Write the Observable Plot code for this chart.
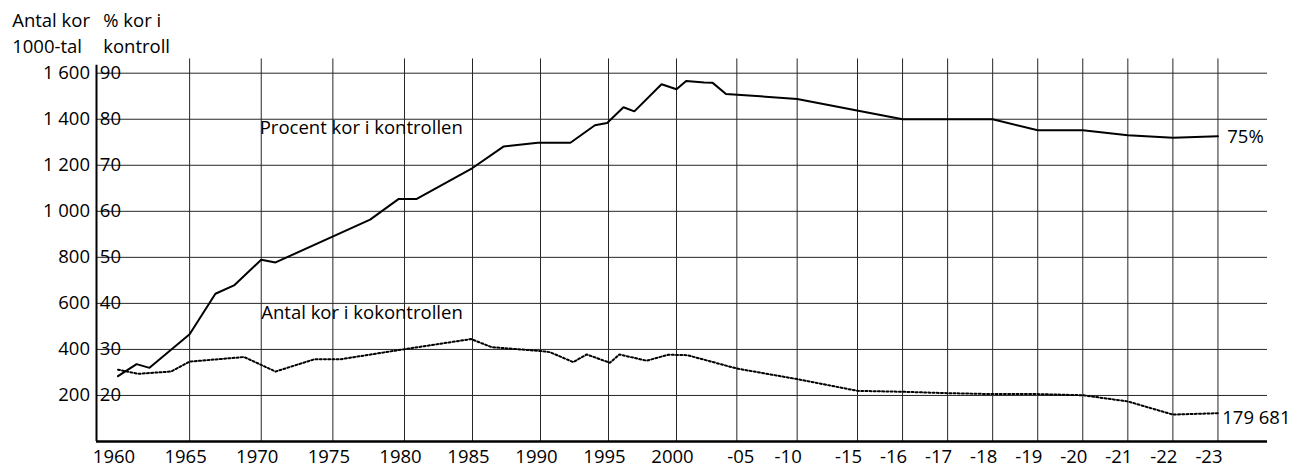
<!DOCTYPE html>
<html>
<head>
<meta charset="utf-8">
<script src="https://cdn.jsdelivr.net/npm/d3@7"></script>
<script src="https://cdn.jsdelivr.net/npm/@observablehq/plot@0.6"></script>
<style>
  html, body { margin: 0; padding: 0; background: #fff; }
  #chart svg { display: block; }
</style>
</head>
<body>
<div id="chart"></div>
<script>
// ---- Data ----
const tickYears = [1960, 1965, 1970, 1975, 1980, 1985, 1990, 1995, 2000, 2005, 2010, 2015, 2016, 2017, 2018, 2019, 2020, 2021, 2022, 2023];
const pctTicks = [20, 30, 40, 50, 60, 70, 80, 90];

// Procent kor i kontrollen (%)
const pctYears  = [1960, 1961.3, 1962.2, 1965, 1966.8, 1968.1, 1970, 1971, 1977.6, 1979.6, 1980.9, 1985, 1987.3, 1989.8, 1992.2, 1994, 1994.9, 1996.1, 1996.9, 1998.9, 2000, 2000.8, 2002.3, 2003, 2004.1, 2010, 2016, 2018, 2019, 2020, 2021, 2022, 2023];
const pctValues = [24.2, 26.8, 26.0, 33.3, 42.1, 43.9, 49.5, 48.9, 58.2, 62.7, 62.7, 69.4, 74.1, 74.9, 74.9, 78.7, 79.2, 82.6, 81.7, 87.6, 86.5, 88.3, 88.0, 87.9, 85.5, 84.4, 80.0, 80.0, 77.6, 77.6, 76.5, 76.0, 76.3];

// Antal kor i kokontrollen (1000-tal)
const cowYears  = [1960, 1961.4, 1963.7, 1965, 1968.8, 1971, 1973.7, 1975.5, 1980, 1984.9, 1986.4, 1990, 1990.7, 1992.4, 1993.4, 1995.1, 1995.8, 1997.8, 1999.4, 2000.9, 2005, 2010, 2015, 2016, 2017, 2018, 2019, 2020, 2021, 2022, 2023];
const cowValues = [312, 294, 304, 347, 367, 304, 357, 357, 401, 445, 410, 393, 388, 345, 378, 342, 378, 351, 377, 375, 317, 271, 220, 216, 210, 206, 206, 201, 174, 117, 123];

const titleCount = "Antal kor\n1000-tal";
const titlePct = "% kor i\nkontroll";
const pctLabel = "Procent kor i kontrollen";
const cowLabel = "Antal kor i kokontrollen";
const pctEndLabel = "75%";
const cowEndLabel = "179 681";

// ---- Build tables ----
const pctData = pctYears.map((year, i) => ({year, pct: pctValues[i]}));
const cowData = cowYears.map((year, i) => ({year, cows: cowValues[i]}));
// the count axis shares the percent scale: 200 <-> 20 %, 1600 <-> 90 %
const countToPct = c => 10 + c / 20;
const pctToCount = p => (p - 10) * 20;

const fmtCount = d3.formatLocale({thousands: "\u00a0", grouping: [3], decimal: ","}).format(",");
const fmtYear = y => y <= 2000 ? String(y) : "-" + String(y % 100).padStart(2, "0");

const FONT = "'Open Sans', 'DejaVu Sans', sans-serif";
const FS = 18.5;
const INK = "#000";
const GRID = "#262626";

// piecewise x scale (the reference's category spacing is not uniform)
const xDomain = [1958.5, 1980, 2000, 2015, 2024.1];
const xRange  = [96, 404, 676, 857, 1267];

const lastPct = pctData[pctData.length - 1];
const lastCow = cowData[cowData.length - 1];

const chart = Plot.plot({
  width: 1310,
  height: 469,
  marginLeft: 96,
  marginRight: 43,
  marginTop: 72.7,
  marginBottom: 28,
  x: {type: "linear", domain: xDomain, range: xRange, axis: null},
  y: {type: "linear", domain: [10, 90], axis: null},
  style: {fontFamily: FONT, fontSize: FS + "px", background: "#fff", color: INK, overflow: "visible"},
  marks: [
    // horizontal grid
    Plot.ruleY(pctTicks, {stroke: GRID, strokeWidth: 1}),
    // vertical grid
    Plot.ruleX(tickYears.filter(d => d > 1960), {y1: 10, y2: 93.1, stroke: GRID, strokeWidth: 1}),
    // axis lines
    Plot.ruleX([xDomain[0]], {y1: 10, y2: 91.7, stroke: INK, strokeWidth: 2}),
    Plot.ruleY([10], {stroke: INK, strokeWidth: 2.5}),
    // y tick labels: counts (left of axis) and percent (right of axis)
    Plot.text(pctTicks, {y: d => d, frameAnchor: "left", text: d => fmtCount(pctToCount(d)),
      textAnchor: "end", lineAnchor: "middle", dx: -6.5, fontSize: FS, fill: INK}),
    Plot.text(pctTicks, {y: d => d, frameAnchor: "left", text: d => String(d),
      textAnchor: "start", lineAnchor: "middle", dx: 3.3, fontSize: FS, fill: INK}),
    // x tick labels
    Plot.text(tickYears.filter(d => d <= 2000), {x: d => d, frameAnchor: "bottom", text: fmtYear,
      textAnchor: "middle", lineAnchor: "middle", dy: 15.5, dx: -4, fontSize: FS, fill: INK}),
    Plot.text(tickYears.filter(d => d === 2005), {x: d => d, frameAnchor: "bottom", text: fmtYear,
      textAnchor: "middle", lineAnchor: "middle", dy: 15.5, dx: 4, fontSize: FS, fill: INK}),
    Plot.text(tickYears.filter(d => d > 2005), {x: d => d, frameAnchor: "bottom", text: fmtYear,
      textAnchor: "middle", lineAnchor: "middle", dy: 15.5, dx: -9, fontSize: FS, fill: INK}),
    // axis titles
    Plot.text([titleCount], {frameAnchor: "top-left", text: d => d, textAnchor: "start", lineAnchor: "bottom",
      lineHeight: 1.405, dx: -84.3, dy: -20, fontSize: FS, fill: INK}),
    Plot.text([titlePct], {frameAnchor: "top-left", text: d => d, textAnchor: "start", lineAnchor: "bottom",
      lineHeight: 1.405, dx: 6.7, dy: -20.4, fontSize: FS, fill: INK}),
    // series
    Plot.line(pctData, {x: "year", y: "pct", stroke: INK, strokeWidth: 2, strokeLinejoin: "miter"}),
    Plot.line(cowData, {x: "year", y: d => countToPct(d.cows), stroke: INK, strokeWidth: 2,
      strokeDasharray: "2,2.2"}),
    // series labels
    Plot.text([pctLabel], {x: 1970, y: 76.83, text: d => d, textAnchor: "start", lineAnchor: "bottom",
      dx: -1.5, fontSize: FS, fill: INK}),
    Plot.text([cowLabel], {x: 1970, y: 36.65, text: d => d, textAnchor: "start", lineAnchor: "bottom",
      dx: 0, fontSize: FS, fill: INK}),
    // end labels
    Plot.text([lastPct], {x: "year", y: "pct", text: () => pctEndLabel, textAnchor: "start",
      lineAnchor: "middle", dx: 9.3, dy: 1.2, fontSize: FS, fill: INK}),
    Plot.text([lastCow], {x: "year", y: d => countToPct(d.cows), text: () => cowEndLabel, textAnchor: "start",
      lineAnchor: "middle", dx: 4.3, dy: 4.6, fontSize: FS, fill: INK})
  ]
});

document.getElementById("chart").appendChild(chart);
</script>
</body>
</html>
